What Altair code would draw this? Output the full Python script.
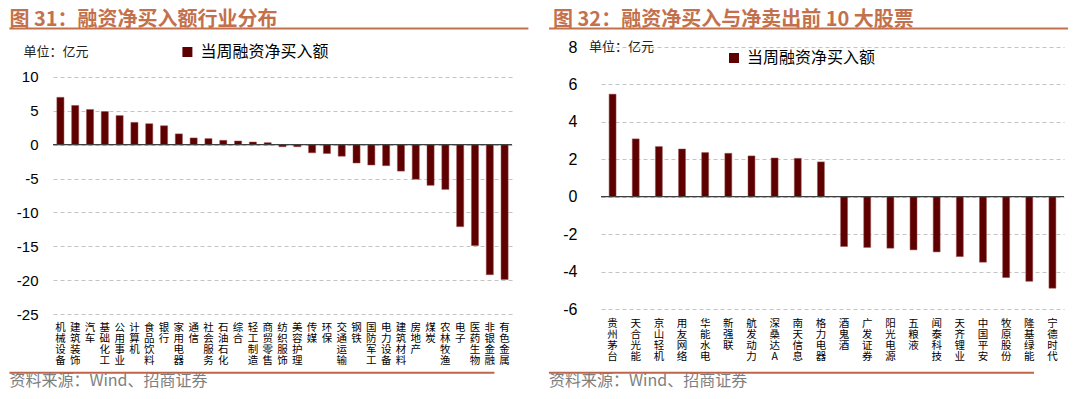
import altair as alt
import pandas as pd

# ---------------- data ----------------
ind_names = ["机械设备", "建筑装饰", "汽车", "基础化工", "公用事业", "计算机", "食品饮料", "银行",
             "家用电器", "通信", "社会服务", "石油石化", "综合", "轻工制造", "商贸零售", "纺织服饰",
             "美容护理", "传媒", "环保", "交通运输", "钢铁", "国防军工", "电力设备", "建筑材料",
             "房地产", "煤炭", "农林牧渔", "电子", "医药生物", "非银金融", "有色金属"]
ind_values = [7.0, 5.8, 5.2, 4.9, 4.3, 3.3, 3.1, 2.8, 1.6, 1.0, 0.9, 0.65, 0.55, 0.4, 0.3, -0.3,
              -0.3, -1.2, -1.3, -1.7, -2.7, -3.0, -3.1, -3.9, -5.1, -6.0, -6.6, -12.1, -14.9,
              -19.2, -19.9]

stock_names = ["贵州茅台", "天合光能", "京山轻机", "用友网络", "华能水电", "新强联", "航发动力",
               "深桑达A", "南天信息", "格力电器", "酒鬼酒", "广发证券", "阳光电源", "五粮液",
               "闻泰科技", "天齐锂业", "中国平安", "牧原股份", "隆基绿能", "宁德时代"]
stock_values = [5.48, 3.09, 2.68, 2.55, 2.36, 2.32, 2.18, 2.07, 2.05, 1.86, -2.66, -2.71, -2.75,
                -2.84, -2.95, -3.20, -3.50, -4.32, -4.52, -4.89]

series_name = "当周融资净买入额"
left_title = "图 31：融资净买入额行业分布"
right_title = "图 32：融资净买入与净卖出前 10 大股票"
unit_label = "单位：亿元"
source_label = "资料来源：Wind、招商证券"
left_ticks = [-25, -20, -15, -10, -5, 0, 5, 10]
right_ticks = [-6, -4, -2, 0, 2, 4, 6, 8]
left_domain = [-25, 14.43]
right_domain = [-6, 8]

# ---------------- style ----------------
CJK = "Noto Sans CJK SC"
NUM = "Liberation Sans"
BAR = "#5E0000"
ACCENT = "#C3714C"
GRID = "#C4C4C4"


def one_row():
    return pd.DataFrame({"k": [0]})


def text_layer(text, x, y, size, color, weight="normal", baseline="top"):
    return alt.Chart(pd.DataFrame({"t": [text]})).mark_text(
        align="left", baseline=baseline, fontSize=size, font=CJK,
        fontWeight=weight, color=color
    ).encode(x=alt.value(x), y=alt.value(y), text="t:N")


def hline(x1, x2, y, color, sw):
    return alt.Chart(one_row()).mark_rule(color=color, strokeWidth=sw).encode(
        x=alt.value(x1), x2=alt.value(x2), y=alt.value(y))


def panel(names, values, ticks, domain, width, height, pad_inner, lay):
    df = pd.DataFrame({"name": names, "value": values, "series": series_name})
    yscale = alt.Scale(domain=domain, nice=False, zero=False)
    yaxis = alt.Axis(values=ticks, domain=False, ticks=False, tickSize=0,
                     labelExpr="'' + datum.value", labelFont=NUM,
                     labelFontSize=lay["ylabsize"], labelColor="#000000",
                     labelPadding=lay["ylabpad"], grid=True, gridColor=GRID,
                     gridDash=[4, 3], gridWidth=1)
    bars = alt.Chart(df).mark_bar(stroke="#9A5050", strokeWidth=0.5).encode(
        x=alt.X("name:N", sort=names, title=None,
                scale=alt.Scale(paddingInner=pad_inner, paddingOuter=pad_inner / 2),
                axis=alt.Axis(labelAngle=0, domain=False, ticks=False, tickSize=0,
                              labelExpr="split(datum.label, '')",
                              labelBaseline="top", labelAlign="center",
                              labelFont=CJK, labelFontSize=10.5, labelLineHeight=11.3,
                              labelColor="#000000", labelPadding=lay["xlabpad"],
                              labelOverlap=False, grid=False)),
        y=alt.Y("value:Q", title=None, scale=yscale, axis=yaxis),
        color=alt.Color("series:N", scale=alt.Scale(range=[BAR]),
                        legend=alt.Legend(title=None, orient="none",
                                          legendX=lay["legx"], legendY=lay["legy"],
                                          symbolType="square", symbolSize=100,
                                          symbolStrokeWidth=0, symbolOpacity=1,
                                          labelFont=CJK, labelFontSize=16,
                                          labelColor="#000000", labelOffset=5,
                                          padding=0)),
    )
    zero = alt.Chart(pd.DataFrame({"value": [0]})).mark_rule(
        color="#404040", strokeWidth=1.3).encode(
        y=alt.Y("value:Q", title=None, scale=yscale, axis=yaxis))
    layers = [
        bars,
        zero,
        text_layer(lay["title"], lay["tx"], lay["ty"], 20, ACCENT, weight="bold"),
        hline(lay["bx"], lay["ux2"], lay["uy"], ACCENT, 2),
        text_layer(unit_label, lay["unx"], lay["uny"], 13, "#222222", baseline="middle"),
        hline(lay["bx"], lay["fx2"], lay["fy"], "#C0654A", 2),
        text_layer(source_label, lay["bx"], lay["sy"], 16, "#7F7F7F", baseline="bottom"),
    ]
    return alt.layer(*layers).properties(width=width, height=height)


# Both plot areas start at page y 47 (left value 10 sits at y 77)
left = panel(ind_names, ind_values, left_ticks, left_domain, 459, 267, 0.52, dict(
    title=left_title, tx=-43.6, ty=-37, bx=-43.6, ux2=475.4, uy=-18.5,
    unx=-29.6, uny=5, fx2=441.4, fy=325.7, sy=342,
    legx=126.4, legy=-3, xlabpad=8, ylabpad=15, ylabsize=15))

right = panel(stock_names, stock_values, right_ticks, right_domain, 463, 262, 0.70, dict(
    title=right_title, tx=-48, ty=-37, bx=-52, ux2=467, uy=-18.5,
    unx=-12, uny=0, fx2=433, fy=325.7, sy=342,
    legx=125, legy=3, xlabpad=9, ylabpad=24, ylabsize=16))

chart = alt.hconcat(left, right, spacing=18).resolve_scale(
    x="independent", y="independent", color="independent"
).resolve_legend(color="independent").properties(
    padding={"top": 2, "bottom": 2, "left": 0, "right": 0}
).configure_view(stroke=None)

chart.save("out.html", embed_options={"renderer": "svg", "actions": False})
